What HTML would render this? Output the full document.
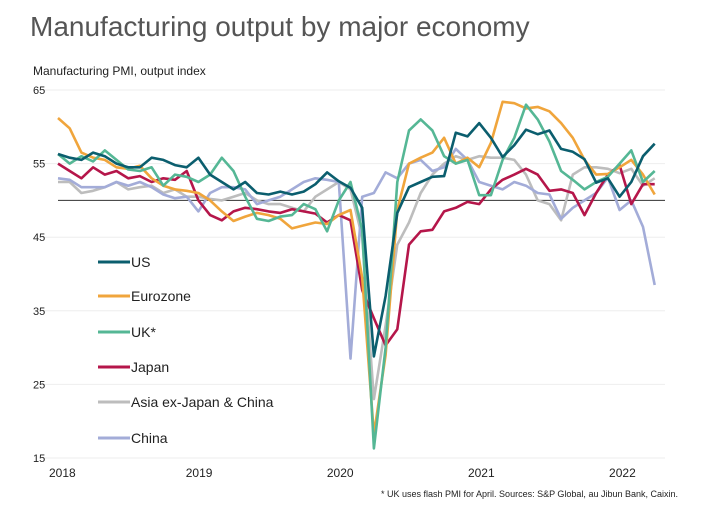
<!DOCTYPE html>
<html><head><meta charset="utf-8"><style>
body{margin:0;background:#fff;font-family:"Liberation Sans",sans-serif}
svg text{font-family:"Liberation Sans",sans-serif}
</style></head><body>
<svg id="c" width="711" height="527" xmlns="http://www.w3.org/2000/svg">
<text x="30" y="36" font-size="28" fill="#555">Manufacturing output by major economy</text>
<text x="33" y="75" font-size="12" fill="#222">Manufacturing PMI, output index</text>
<text x="678" y="497" font-size="9" fill="#222" text-anchor="end">* UK uses flash PMI for April. Sources: S&amp;P Global, au Jibun Bank, Caixin.</text>
<g id="grid"></g><g id="lines"></g><g id="legend"></g>
</svg>
<script>
const yTicks=[15,25,35,45,55,65];
const xLabels=["2018","2019","2020","2021","2022"];
const names=["US","Eurozone","UK*","Japan","Asia ex-Japan & China","China"];
const colors=["#0b5e6e","#f0a53c","#55b795","#b5164a","#bdbdbd","#a3acd8"];
const us=[56.3,55.8,55.5,56.5,56,55,54.5,54.5,55.8,55.5,54.8,54.5,55.8,53.5,52.5,51.5,52.5,51,50.8,51.2,50.8,51.2,52.2,53.8,52.6,51.7,49,28.8,37,48.3,51.8,52.5,53.2,53.3,59.2,58.7,60.5,58.5,55.9,57.5,59.6,59,59.5,57,56.6,55.6,52.4,53,50.5,52.5,56,57.7];
const ez=[61.2,59.8,56.5,55.8,55.5,54.5,54.3,54.7,53,52,51.5,51.3,51,50,48.5,47.2,47.8,48.3,48,47.5,46.2,46.6,47,46.8,48,48.7,39.5,18.2,29,48.7,55,55.8,56.5,58.5,55,55.8,54.5,57.8,63.4,63.2,62.5,62.7,62.1,60.5,58.5,55.5,53.5,53.6,54.5,55.5,53.5,50.8];
const uk=[56.3,55,56,55.3,56.8,55.5,54.2,54,54.5,52,53.5,53.2,52.5,53.5,55.8,54,50.5,47.5,47.2,47.8,48,49.5,48.8,45.8,50,52.5,46,16.3,30,52.5,59.5,61,59.5,56,55,55.5,50.7,50.7,55.5,58.5,63,61,58,54,52.8,51.5,52.5,53.2,55,56.8,52.5,54];
const jp=[55,54,53,54.5,53.5,54,53,53.3,52.5,53,52.8,54,50,48,47.3,48.5,49,48.8,48.5,48.3,48.8,48.5,48.2,47,48,47.3,37.8,34,30.3,32.5,44,45.8,46,48.5,49,49.8,49.5,51.5,52.8,53.5,54.3,53.5,51.3,51.5,51,48,51,53.5,54.8,49.5,52.2,52.2];
const asia=[52.5,52.5,51,51.3,51.8,52.5,51.5,51.8,52,51,51.5,50.5,50.5,50.2,50,50.5,51,50,49.5,49.5,49,48.5,50.5,51.5,52.5,51.5,45,23,33,44,47,51,53.5,55,56,55.5,56,55.8,55.8,55.5,53.5,50,49.5,47.3,53.5,54.5,54.5,54.3,53.7,54.3,52,53];
const cn=[53,52.8,51.8,51.8,51.8,52.5,52,52.5,51.8,50.8,50.3,50.5,48.5,51,51.8,51.8,51.5,49.5,50,50.5,51.5,52.5,53,52.8,52.5,28.5,50.5,51,53.8,53,55,55.5,54,54.5,57,55.5,52.5,52,51.5,52.5,52,51,50.8,47.5,49,50,51,53.1,48.7,50,46.4,38.5];
const series=[us,ez,uk,jp,asia,cn];
const x0=58,mw=11.7;
const X=i=>x0+i*mw;
const Y=v=>90+(65-v)*7.36;
const NS="http://www.w3.org/2000/svg";
function mk(t,a,p){const e=document.createElementNS(NS,t);for(const k in a)e.setAttribute(k,a[k]);p.appendChild(e);return e;}
const grid=document.getElementById('grid');
yTicks.forEach(t=>{
 const l=mk('line',{x1:40,x2:665,y1:Y(t),y2:Y(t),stroke:'#eee','stroke-width':1},grid);
 
 
 const tx=mk('text',{x:33,y:Y(t)+4,'font-size':11,fill:'#222'},grid);tx.textContent=t;
 
 
});
const base=mk('line',{x1:58,x2:665,y1:Y(50),y2:Y(50),stroke:'#333','stroke-width':1},grid);


xLabels.forEach((s,i)=>{
 const tx=mk('text',{x:X(i*12)+i*0.7,y:477,'font-size':12,fill:'#222','text-anchor':i==0?'start':'middle'},grid);tx.textContent=s;
 if(i==0)tx.setAttribute('x',49);
 
 
});
const lines=document.getElementById('lines');
[4,5,3,1,2,0].forEach(k=>{
 const d=series[k].map((v,i)=>(i?'L':'M')+X(i).toFixed(1)+','+Y(v).toFixed(1)).join('');
 const p=mk('path',{d:d,fill:'none',stroke:colors[k],'stroke-width':2.6,'stroke-linejoin':'round'},lines);
 
 
});
const lg=document.getElementById('legend');
const ly=[262,296,332,367,402,438];
names.forEach((n,i)=>{
 const g=mk('g',{},lg);
 
 
 mk('line',{x1:98,x2:130,y1:ly[i],y2:ly[i],stroke:colors[i],'stroke-width':3},g);
 const t=mk('text',{x:131,y:ly[i]+5,'font-size':14,fill:'#222'},g);t.textContent=n;
});
</script>
</body></html>
